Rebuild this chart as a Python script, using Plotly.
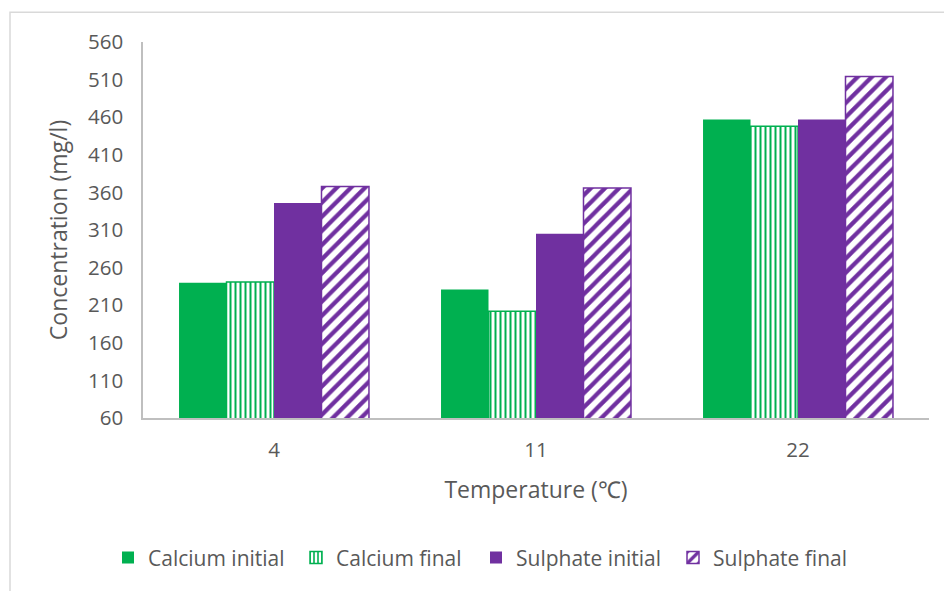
import plotly.graph_objects as go

# Temperature categories (°C) and measured concentrations (mg/l)
temperatures = ["4", "11", "22"]
calcium_initial = [240, 231, 457]
calcium_final = [241, 202, 448]
sulphate_initial = [346, 305, 457]
sulphate_final = [368, 366, 514]

y_ticks = [60, 110, 160, 210, 260, 310, 360, 410, 460, 510, 560]

GREEN = "#00B050"
PURPLE = "#7030A0"
TEXT = "#595959"
FONT = "Open Sans"

fig = go.Figure()

fig.add_trace(go.Bar(
    name="Calcium initial", x=temperatures, y=calcium_initial,
    marker=dict(color=GREEN, line=dict(width=0)),
    legendwidth=143,
))
fig.add_trace(go.Bar(
    name="Calcium final", x=temperatures, y=calcium_final,
    marker=dict(
        color=GREEN, line=dict(color=GREEN, width=1.5),
        pattern=dict(shape="|", fillmode="replace", fgcolor=GREEN,
                     bgcolor="white", size=5, solidity=0.4),
    ),
    legendwidth=135,
))
fig.add_trace(go.Bar(
    name="Sulphate initial", x=temperatures, y=sulphate_initial,
    marker=dict(color=PURPLE, line=dict(width=0)),
    legendwidth=152,
))
fig.add_trace(go.Bar(
    name="Sulphate final", x=temperatures, y=sulphate_final,
    marker=dict(
        color=PURPLE, line=dict(color=PURPLE, width=1.5),
        pattern=dict(shape="/", fillmode="replace", fgcolor=PURPLE,
                     bgcolor="white", size=10, solidity=0.42),
    ),
    legendwidth=140,
))

# Plot-area geometry in pixels, used to place the chart-area frame
L, R, T, B, W, H = 143, 15, 42, 170, 944, 591
pw, ph = W - L - R, H - T - B


def px_x(v):
    return (v - L) / pw


def px_y(v):
    return (H - B - v) / ph


fig.update_layout(
    width=W, height=H,
    margin=dict(l=L, r=R, t=T, b=B),
    paper_bgcolor="white", plot_bgcolor="white",
    barmode="group", bargap=0.275, bargroupgap=0,
    font=dict(family=FONT, color=TEXT, size=20),
    showlegend=True,
    legend=dict(
        orientation="h", xref="paper", yref="paper",
        x=px_x(108), xanchor="left", y=px_y(562), yanchor="middle",
        font=dict(size=21, color=TEXT, family=FONT),
        bgcolor="rgba(0,0,0,0)", itemwidth=30,
    ),
    xaxis=dict(
        type="category", showline=True, linecolor="#bfbfbf", linewidth=1.5,
        showgrid=False, ticks="", ticklabelstandoff=13,
        tickfont=dict(size=20.5, color=TEXT),
        title=dict(text="Temperature (℃)", font=dict(size=23, color=TEXT), standoff=20),
    ),
    yaxis=dict(
        range=[60, 560], tickvals=y_ticks, showline=True, linecolor="#bfbfbf",
        linewidth=1.5, showgrid=False, zeroline=False, ticks="",
        ticklabelstandoff=14, tickfont=dict(size=20.5, color=TEXT),
        title=dict(text="Concentration (mg/l)", font=dict(size=23, color=TEXT), standoff=14),
    ),
    shapes=[dict(
        type="rect", xref="paper", yref="paper",
        x0=px_x(10), x1=px_x(960), y0=px_y(12), y1=px_y(620),
        line=dict(color="#d9d9d9", width=1.5), fillcolor="rgba(0,0,0,0)",
        layer="below",
    )],
)

fig.write_html("out.html")
